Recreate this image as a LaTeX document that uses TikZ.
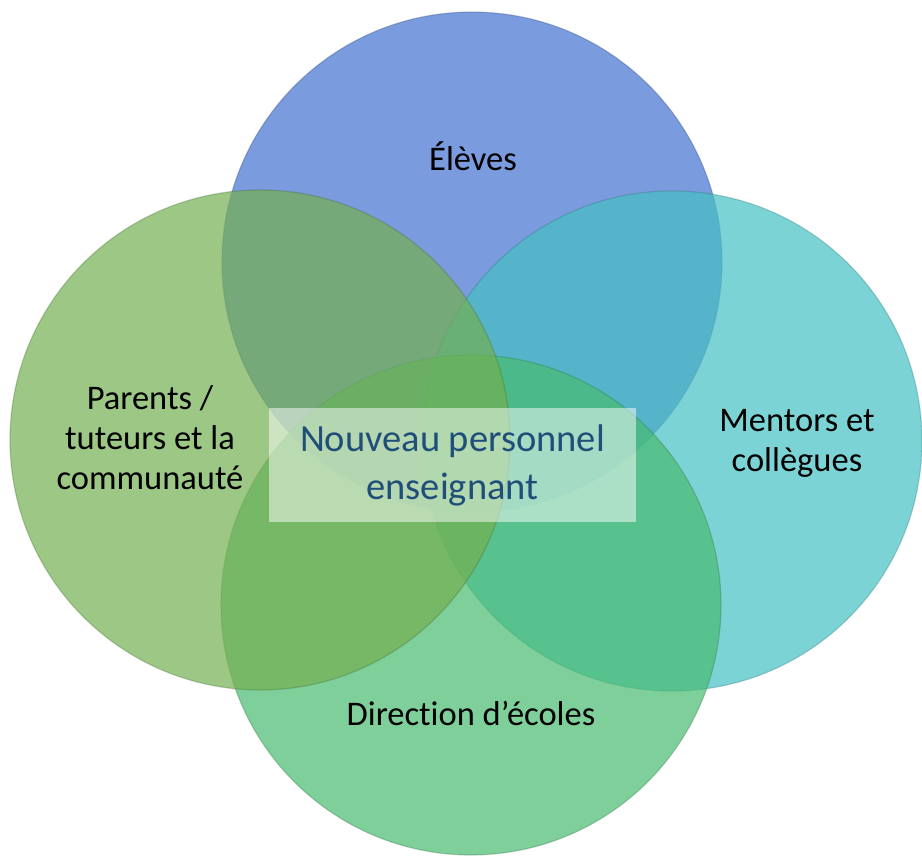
\documentclass[tikz,border=0pt]{standalone}
\usepackage{fontspec}
\setmainfont{Carlito}[Ligatures=NoCommon]
\definecolor{cblue}{RGB}{66,112,206}
\definecolor{ccyan}{RGB}{69,192,195}
\definecolor{cgreenL}{RGB}{115,175,81}
\definecolor{cgreenB}{RGB}{71,187,111}
\definecolor{ctext}{RGB}{31,78,121}
\tikzset{
  disc/.style={circle, minimum size=500pt, inner sep=0pt, fill opacity=0.7, draw opacity=0.3, line width=1.2pt},
  lbl/.style={font=\fontsize{34.5}{40}\selectfont, align=center, text=black, inner sep=0pt},
  centerbox/.style={fill=white, fill opacity=0.5, text opacity=1, minimum width=367pt, minimum height=114pt, inner sep=0pt, text=ctext, font=\fontsize{38.5}{48}\selectfont, align=center}
}
\begin{document}
\begin{tikzpicture}[x=1pt,y=-1pt]
\useasboundingbox (0,0) rectangle (922,856);
\node[disc, fill=cblue, draw=cblue!60!black] (eleves) at (472,262) {};
\node[disc, fill=ccyan, draw=ccyan!60!black] (mentors) at (672,441) {};
\node[disc, fill=cgreenB, draw=cgreenB!60!black] (direction) at (471,605) {};
\node[disc, fill=cgreenL, draw=cgreenL!60!black] (parents) at (260,440) {};
\node[centerbox] (centre) at (452.5,465) {Nouveau personnel\\enseignant};
\node[lbl, anchor=base] (t-eleves) at (473,171) {Élèves};
\node[lbl] (t-parents) at (150,438) {Parents /\\tuteurs et la\\communauté};
\node[lbl] (t-mentors) at (797,443) {Mentors et\\collègues};
\node[lbl, anchor=base] (t-direction) at (471,725) {Direction d’écoles};
\end{tikzpicture}
\end{document}
